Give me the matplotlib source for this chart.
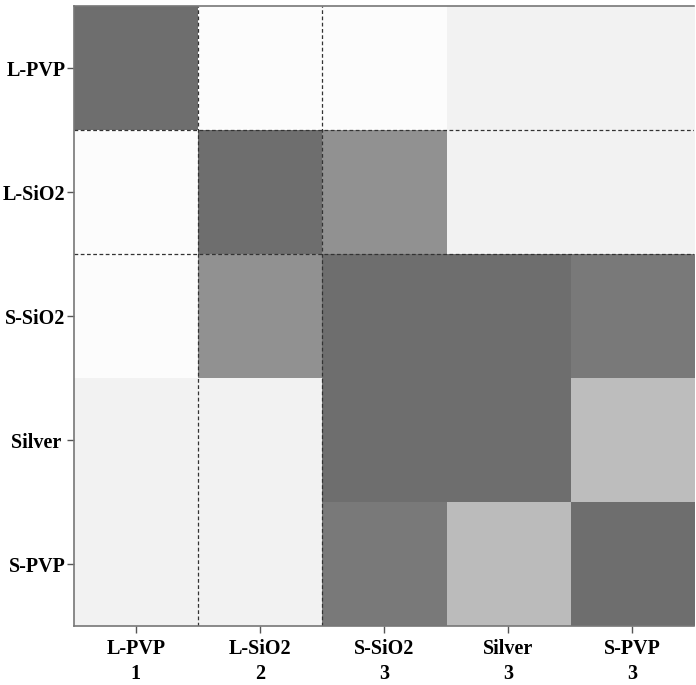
import matplotlib.pyplot as plt
import numpy as np
from matplotlib.colors import LinearSegmentedColormap

# Samples and their cluster number
samples = ["L-PVP", "L-SiO2", "S-SiO2", "Silver", "S-PVP"]
row_labels = ["L-PVP", "L-SiO2", "S-SiO2", "Silver ", "S-PVP"]
clusters = [1, 2, 3, 3, 3]

# Similarity matrix (0 = no similarity, 1 = identical), read off the grey levels
similarity = [
    [1.00, 0.00, 0.00, 0.07, 0.07],
    [0.00, 1.00, 0.75, 0.07, 0.07],
    [0.00, 0.75, 1.00, 1.00, 0.92],
    [0.07, 0.07, 1.00, 1.00, 0.44],
    [0.07, 0.07, 0.92, 0.45, 1.00],
]

# Boundaries between clusters (in cell units)
cluster_edges = [0.5, 1.5]


def main():
    plt.rcParams['font.family'] = ['Liberation Serif', 'DejaVu Serif']
    cmap = LinearSegmentedColormap.from_list("grey", ["#fcfcfc", "#6e6e6e"])

    fig = plt.figure(figsize=(6.96, 6.85), dpi=100)
    ax = fig.add_axes([0.106, 0.086, 0.891, 0.905])
    data = np.array(similarity)
    ax.imshow(data, cmap=cmap, vmin=0, vmax=1, aspect='auto', interpolation='nearest')

    for edge in cluster_edges:
        ax.axvline(edge, color='#333333', linestyle=(0, (3, 2)), linewidth=0.9)
        ax.axhline(edge, color='#333333', linestyle=(0, (3, 2)), linewidth=0.9)

    n = len(samples)
    ax.set_xticks(range(n))
    ax.set_xticklabels([f"{s}\n{c}" for s, c in zip(samples, clusters)],
                       fontsize=14.5, fontweight='bold', linespacing=1.35)
    ax.set_yticks(range(n))
    ax.set_yticklabels(row_labels, fontsize=14.5, fontweight='bold')
    ax.tick_params(length=5, width=1, color='#555555', pad=1)
    ax.tick_params(axis='x', pad=4)

    for side in ['left', 'bottom', 'top', 'right']:
        ax.spines[side].set_color('#777777')
        ax.spines[side].set_linewidth(1.2)
    ax.spines['right'].set_visible(False)

    fig.savefig("out.png", dpi=100)


if __name__ == "__main__":
    main()
